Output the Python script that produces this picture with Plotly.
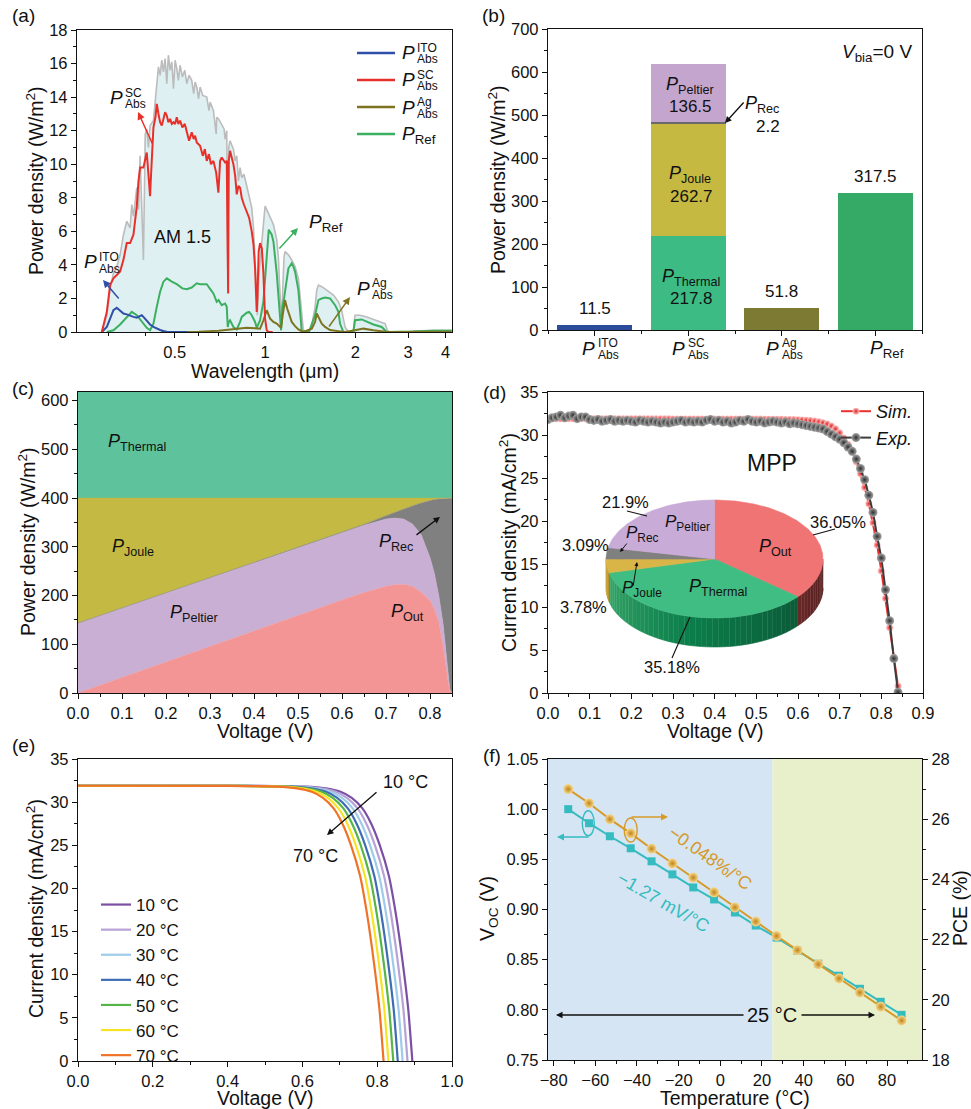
import numpy as np
import plotly.graph_objects as go

W, H = 971, 1109
FONT = "Liberation Sans, Arial, Helvetica, sans-serif"
INK = "#111111"

# ---------------- (a) spectra: wavelength (um) / power density (W/m2) ----------------
am_wl = [0.2855,0.2967,0.3043,0.3122,0.3203,0.3286,0.3371,0.3458,0.3548,0.3594,
         0.364,0.3735,0.3783,0.3831,0.393,0.3985,0.4032,0.4084,0.4136,0.4244,
         0.431,0.4354,0.441,0.4467,0.4525,0.4583,0.4642,0.4702,0.476,0.4824,
         0.4886,0.4949,0.5012,0.5077,0.514,0.5208,0.53,0.54,0.5482,0.558,
         0.5695,0.578,0.5843,0.5918,0.6,0.6072,0.62,0.639,0.65,0.656,
         0.6725,0.687,0.6899,0.7,0.717,0.73,0.7356,0.7451,0.7508,0.7566,
         0.7643,0.7842,0.795,0.8045,0.815,0.8254,0.836,0.85,0.8688,0.885,
         0.9027,0.915,0.9261,0.938,0.9428,0.952,0.9623,0.975,0.9873,1.0,
         1.0129,1.0391,1.0661,1.0937,1.108,1.1163,1.1307,1.1365,1.145,1.157,
         1.166,1.196,1.227,1.2589,1.2915,1.3082,1.325,1.342,1.4,1.431,
         1.468,1.487,1.506,1.545,1.605,1.69,1.756,1.8,1.824,1.848,
         1.896,1.97,1.995,2.073,2.183,2.297,2.417,2.512,2.557,2.6,
         2.966,3.122,3.64,4.19]
am_p = [0,1.0,2.6,3.5,3.9,4.6,5.8,6.6,6.2,7.6,
        6.9,8.6,7.3,10.5,4.3,11.8,12.1,11.0,12.3,12.6,
        13.9,15.0,15.8,15.3,16.2,15.5,16.3,14.8,16.5,15.6,
        16.1,14.5,16.2,15.7,15.0,15.9,15.2,15.6,14.8,15.3,
        15.0,14.2,14.9,14.6,13.9,14.6,14.1,14.0,13.2,13.7,
        13.2,11.8,12.8,12.7,12.4,12.1,11.5,12.0,4.0,11.0,
        11.4,10.9,10.2,10.5,9.0,9.8,9.2,9.4,8.7,8.0,
        7.4,6.2,4.5,2.0,1.0,3.2,4.2,5.5,6.6,7.5,
        7.3,6.9,6.4,5.5,4.4,3.0,1.0,0.5,2.5,4.5,
        4.8,4.6,4.3,3.9,3.2,2.0,0.8,0.1,0.0,0.4,
        1.5,2.5,2.8,2.7,2.5,2.2,1.8,1.3,0.8,0.3,
        0.0,0.1,1.0,1.0,0.9,0.75,0.6,0.5,0.1,0.0,
        0.0,0.05,0.1,0.1]

sc_wl = [0.2855,0.2967,0.3043,0.3122,0.3203,0.3286,0.3371,0.3458,0.3548,0.364,
         0.3735,0.3783,0.3831,0.393,0.4032,0.4084,0.4136,0.4157,0.4244,0.431,
         0.4354,0.441,0.4467,0.4525,0.4583,0.4642,0.4702,0.476,0.4824,0.4886,
         0.4949,0.5012,0.5077,0.514,0.5208,0.53,0.54,0.5482,0.558,0.5695,
         0.578,0.5843,0.5918,0.6072,0.62,0.63,0.639,0.65,0.66,0.6725,
         0.687,0.6988,0.708,0.717,0.7356,0.7451,0.749,0.753,0.7566,0.7643,
         0.7842,0.795,0.8045,0.815,0.8254,0.836,0.85,0.8688,0.885,0.9027,
         0.915,0.9261,0.938,0.9428,0.952,0.9623,0.975,0.9873,1.0,1.0129,
         1.0259,1.06]
sc_p = [0,1.2,2.8,3.2,3.4,3.6,4.3,5.3,5.3,5.8,
        7.5,9.0,9.8,9.8,10.7,9.5,8.1,9.0,12.2,12.8,
        13.6,13.0,12.5,12.3,12.8,13.1,12.9,12.5,12.7,12.4,
        12.5,12.4,12.8,12.4,12.6,12.2,12.4,12.0,11.4,11.9,
        11.5,11.7,11.3,11.1,10.5,10.9,10.2,10.6,10.0,10.2,
        9.5,8.3,10.2,10.4,10.1,10.2,2.3,2.3,10.2,10.8,
        10.0,9.3,8.2,8.7,8.6,8.0,7.6,7.2,6.8,6.0,
        5.2,3.8,1.2,2.0,4.8,5.3,5.0,3.5,0.8,0.1,
        0.0,0.0]

ito_wl = [0.2855,0.2967,0.3043,0.3122,0.3203,0.3286,0.3371,0.3458,0.3548,0.364,
          0.3735,0.3831,0.388,0.393,0.4032,0.4136,0.4244,0.4354,0.4467,0.4583,
          0.4702,0.5,0.55]
ito_p = [0,0.3,0.8,1.3,1.45,1.25,1.1,1.05,0.95,0.9,
         0.85,0.95,1.0,0.9,0.65,0.45,0.3,0.2,0.12,0.06,
         0.02,0.0,0.0]

ref_wl = [0.2967,0.3122,0.3286,0.3458,0.3594,0.3735,0.388,0.4032,0.4136,0.4244,
          0.4354,0.4467,0.4583,0.4702,0.4886,0.5077,0.53,0.5482,0.5695,0.5918,
          0.6072,0.639,0.66,0.6725,0.6899,0.7,0.717,0.7356,0.7451,0.7508,
          0.7566,0.7643,0.7842,0.8045,0.8254,0.836,0.8688,0.885,0.9027,0.9261,
          0.938,0.9623,0.9873,1.0129,1.0285,1.0525,1.0661,1.0937,1.1163,1.1307,
          1.142,1.157,1.196,1.227,1.243,1.2589,1.2915,1.3082,1.325,1.4,
          1.431,1.468,1.506,1.545,1.585,1.647,1.712,1.756,1.778,1.824,
          1.97,1.995,2.1,2.183,2.297,2.448,2.544,3.122,3.64,4.19]
ref_p = [0,0.1,0.45,0.9,1.2,1.0,0.6,0.25,0.1,0.5,
         1.5,2.4,3.0,3.2,3.0,2.85,2.6,2.55,2.65,2.9,
         2.85,2.85,2.5,2.3,1.8,1.9,1.6,1.7,1.5,0.3,
         0.6,0.7,0.3,0.15,0.6,0.9,1.15,1.2,1.0,0.6,
         0.25,0.7,1.8,4.5,6.1,5.8,5.4,3.5,1.2,0.1,
         1.5,2.0,3.8,4.1,3.9,3.6,2.5,1.0,0.05,0.0,
         0.5,1.0,1.9,2.0,2.05,2.0,1.6,1.2,0.5,0.0,
         0.0,0.7,0.75,0.6,0.45,0.3,0.0,0.03,0.08,0.08]

ag_wl = [0.45,0.6,0.7,0.8045,0.8688,0.9261,0.9623,0.9873,1.0129,1.0391,
         1.0661,1.0937,1.1163,1.1307,1.145,1.165,1.185,1.205,1.227,1.2589,
         1.2915,1.342,1.431,1.468,1.487,1.506,1.545,1.585,1.647,1.756,
         1.848,1.995,2.127,2.297,2.557,4.19]
ag_p = [0,0.02,0.08,0.18,0.25,0.22,0.2,0.7,1.3,0.8,
        0.6,0.5,0.35,0.25,1.0,1.9,1.4,1.0,0.6,0.35,
        0.15,0.0,0.2,0.6,1.1,0.9,0.5,0.3,0.12,0.05,
        0.0,0.1,0.2,0.1,0.0,0.02]

a_ticks = [0.5, 1, 2, 3, 4]

# ---------------- (b) power budget at V_bia = 0 V (W/m2) ----------------
b_pos = [0, 1, 2, 3]
b_ito = 11.5
b_thermal = 217.8
b_joule = 262.7
b_rec = 2.2
b_peltier = 136.5
b_ag = 51.8
b_ref = 317.5

# ---------------- (c) power components vs voltage (W/m2) ----------------
c_v = [0, 0.1, 0.2, 0.3, 0.4, 0.5, 0.6, 0.65, 0.7, 0.72, 0.74, 0.76, 0.78, 0.80, 0.81, 0.82, 0.83, 0.84, 0.845, 0.85]
c_out = [0, 32, 64, 96, 128, 160, 191, 206, 219, 222, 223, 219, 207, 190, 172, 145, 95, 30, 5, 0]
c_peltier = [143, 142, 141, 140, 139, 138, 138, 138, 138, 137, 134, 128, 118, 88, 73, 55, 45, 25, 3, 0]
c_rec = [0.5, 0.5, 0.5, 0.5, 0.5, 0.5, 0.5, 2, 7, 12, 21, 37, 65, 117, 152, 198, 259, 344.7, 392, 400]
c_joule = [256.5, 225.5, 194.5, 163.5, 132.5, 101.5, 70.5, 54, 36, 29, 22, 16, 10, 5, 3, 2, 1, 0.3, 0, 0]
c_thermal = [217.7, 217.7, 217.7, 217.7, 217.7, 217.7, 217.7, 217.7, 217.7, 217.7,
             217.7, 217.7, 217.7, 217.7, 217.7, 217.7, 217.7, 217.7, 217.7, 217.7]

# ---------------- (d) J-V: simulation vs experiment (mA/cm2) ----------------
d_v = [0.00,0.01,0.02,0.03,0.04,0.05,0.06,0.07,0.08,0.09,
       0.10,0.11,0.12,0.13,0.14,0.15,0.16,0.17,0.18,0.19,
       0.20,0.21,0.22,0.23,0.24,0.25,0.26,0.27,0.28,0.29,
       0.30,0.31,0.32,0.33,0.34,0.35,0.36,0.37,0.38,0.39,
       0.40,0.41,0.42,0.43,0.44,0.45,0.46,0.47,0.48,0.49,
       0.50,0.51,0.52,0.53,0.54,0.55,0.56,0.57,0.58,0.59,
       0.60,0.61,0.62,0.63,0.64,0.65,0.66,0.67,0.68,0.69,
       0.70,0.71,0.72,0.73,0.74,0.75,0.76,0.77,0.78,0.79,
       0.80,0.81,0.82,0.83,0.84]
d_sim = [31.9,31.9,31.9,31.9,31.9,31.9,31.9,31.9,31.9,31.9,
         31.9,31.9,31.9,31.9,31.9,31.9,31.9,31.9,31.9,31.9,
         31.9,31.9,31.9,31.9,31.9,31.88,31.88,31.88,31.88,31.88,
         31.87,31.87,31.87,31.87,31.87,31.87,31.87,31.87,31.87,31.87,
         31.86,31.86,31.86,31.86,31.86,31.86,31.86,31.86,31.86,31.86,
         31.85,31.85,31.84,31.84,31.83,31.83,31.82,31.81,31.80,31.79,
         31.77,31.75,31.72,31.68,31.62,31.54,31.43,31.28,31.05,30.72,
         30.25,29.65,28.9,28.0,26.9,25.5,23.9,22.0,19.8,17.2,
         14.2,11.0,7.6,4.2,0.8]
d_exp = [31.8,32.0,32.1,32.3,32.0,32.2,32.3,31.9,32.1,32.1,
         31.8,31.7,31.8,31.6,31.7,31.8,31.6,31.7,31.6,31.7,
         31.6,31.5,31.7,31.6,31.5,31.6,31.5,31.4,31.5,31.4,
         31.5,31.6,31.7,31.5,31.6,31.5,31.6,31.5,31.7,31.8,
         31.6,31.7,31.5,31.6,31.4,31.5,31.7,31.6,31.8,31.6,
         31.5,31.6,31.4,31.5,31.6,31.5,31.4,31.5,31.3,31.4,
         31.3,31.2,31.1,31.0,30.9,30.8,30.7,30.4,30.1,29.8,
         29.5,29.1,28.6,28.1,27.2,26.1,24.8,23.0,21.0,18.2,
         15.7,12.0,8.4,4.0,0.1]

pie_names = ["Out", "Thermal", "Joule", "Rec", "Peltier"]
pie_pct = [36.05, 35.18, 3.78, 3.09, 21.9]

# ---------------- (e) J-V vs temperature ----------------
e_labels = ["10 °C", "20 °C", "30 °C", "40 °C", "50 °C", "60 °C", "70 °C"]
e_j = [31.9, 31.88, 31.8, 31.6, 31.2, 30.5, 29.3, 27.5, 25.0, 21.5, 17.0, 11.5, 6.0, 0.0]
e_v10 = [0.0, 0.477, 0.607, 0.662, 0.702, 0.732, 0.760, 0.784, 0.807, 0.831, 0.850, 0.868, 0.883, 0.894]
e_v20 = [0.0, 0.464, 0.594, 0.649, 0.689, 0.719, 0.747, 0.771, 0.794, 0.818, 0.837, 0.855, 0.870, 0.881]
e_v30 = [0.0, 0.451, 0.581, 0.636, 0.676, 0.706, 0.734, 0.758, 0.781, 0.805, 0.824, 0.842, 0.857, 0.868]
e_v40 = [0.0, 0.438, 0.568, 0.623, 0.663, 0.693, 0.721, 0.745, 0.768, 0.792, 0.811, 0.829, 0.844, 0.855]
e_v50 = [0.0, 0.426, 0.556, 0.611, 0.651, 0.681, 0.709, 0.733, 0.756, 0.780, 0.799, 0.817, 0.832, 0.843]
e_v60 = [0.0, 0.413, 0.543, 0.598, 0.638, 0.668, 0.696, 0.720, 0.743, 0.767, 0.786, 0.804, 0.819, 0.830]
e_v70 = [0.0, 0.400, 0.530, 0.585, 0.625, 0.655, 0.683, 0.707, 0.730, 0.754, 0.773, 0.791, 0.806, 0.817]
e_colors = ["#7b4fa3", "#b7a2d6", "#9fcbea", "#3f6db3", "#57b548", "#f4e425", "#f07228"]

# ---------------- (f) Voc and PCE vs temperature ----------------
f_t = [-73, -63, -53, -43, -33, -23, -13, -3, 7, 17, 27, 37, 47, 57, 67, 77, 87]
f_voc = [1.000, 0.986, 0.973, 0.961, 0.948, 0.935, 0.922, 0.910, 0.897, 0.884,
         0.872, 0.859, 0.846, 0.834, 0.821, 0.808, 0.795]
f_pce = [27.0, 26.53, 26.0, 25.53, 25.02, 24.53, 24.06, 23.57, 23.07, 22.6,
         22.12, 21.65, 21.18, 20.71, 20.24, 19.77, 19.31]

# ====================================================================
def X(px): return px / W
def Y(py): return 1 - py / H
def dxr(a, b): return [a / W, b / W]
def dyr(top, bot): return [1 - bot / H, 1 - top / H]

ann, shp = [], []

def text(px, py, s, size=16, color=INK, xanchor="center", yanchor="middle", angle=0):
    ann.append(dict(x=X(px), y=Y(py), xref="paper", yref="paper", text=s, showarrow=False,
                    font=dict(size=size, color=color, family=FONT), xanchor=xanchor,
                    yanchor=yanchor, textangle=angle))

def arrow(hx, hy, tx, ty, color=INK, width=1.3, head=2, size=1.0):
    ann.append(dict(x=X(hx), y=Y(hy), xref="paper", yref="paper", ax=tx - hx, ay=ty - hy,
                    axref="pixel", ayref="pixel", text="", showarrow=True, arrowhead=head,
                    arrowsize=size, arrowwidth=width, arrowcolor=color, standoff=0, startstandoff=0,
                    font=dict(size=10)))

def line(x0, y0, x1, y1, color=INK, width=1.2):
    shp.append(dict(type="line", xref="paper", yref="paper", x0=X(x0), y0=Y(y0), x1=X(x1), y1=Y(y1),
                    line=dict(color=color, width=width)))

def pstack(px, py, sup, sub, size=19, ssize=12, gap=15, color=INK):
    text(px, py, "<i>P</i>", size=size, color=color, xanchor="left")
    text(px + gap, py - 5, sup, size=ssize, color=color, xanchor="left")
    text(px + gap, py + 6.5, sub, size=ssize, color=color, xanchor="left")

def minor(**kw):
    d = dict(ticks="outside", ticklen=3, tickwidth=1, tickcolor=INK)
    d.update(kw)
    return d

def axs(**kw):
    d = dict(showline=True, linecolor=INK, linewidth=1.3, mirror=True, ticks="outside",
             ticklen=5, tickwidth=1.2, tickcolor=INK, showgrid=False, zeroline=False,
             tickfont=dict(size=16.5, color=INK, family=FONT))
    d.update(kw)
    return d

fig = go.Figure()
noleg = dict(showlegend=False, hoverinfo="skip")

# ---------------- (a) ----------------
C_ITO, C_SC, C_AG, C_REF = "#2f4fa8", "#e8302a", "#7d7420", "#3bb060"
fig.add_trace(go.Scatter(x=am_wl, y=am_p, mode="lines", line=dict(color="#bcbcbc", width=1.6),
                         fill="tozeroy", fillcolor="#dff0f3", xaxis="x", yaxis="y", **noleg))
fig.add_trace(go.Scatter(x=ref_wl, y=ref_p, mode="lines", line=dict(color=C_REF, width=2), xaxis="x", yaxis="y", **noleg))
fig.add_trace(go.Scatter(x=ag_wl, y=ag_p, mode="lines", line=dict(color=C_AG, width=2), xaxis="x", yaxis="y", **noleg))
fig.add_trace(go.Scatter(x=ito_wl, y=ito_p, mode="lines", line=dict(color=C_ITO, width=2), xaxis="x", yaxis="y", **noleg))
fig.add_trace(go.Scatter(x=sc_wl, y=sc_p, mode="lines", line=dict(color=C_SC, width=2), xaxis="x", yaxis="y", **noleg))

for row, sup, col in [(53, "ITO", C_ITO), (80, "SC", C_SC), (107, "Ag", C_AG)]:
    line(357, row, 395, row, col, 2.5)
    pstack(400, row, sup, "Abs")
line(357, 134, 395, 134, C_REF, 2.5)
text(400, 135, "<i>P</i><sub>Ref</sub>", size=19, xanchor="left")

pstack(108, 98, "SC", "Abs")
arrow(138, 112, 153, 145, C_SC, 1.5)
pstack(82, 262, "ITO", "Abs")
arrow(103, 280, 120, 300, C_ITO, 1.5)
text(307, 223, "<i>P</i><sub>Ref</sub>", size=19, xanchor="left")
arrow(298, 228, 278, 250, C_REF, 1.5)
pstack(355, 288, "Ag", "Abs")
arrow(350, 297, 328, 328, C_AG, 1.5)
text(182, 237, "AM 1.5", size=18)

# ---------------- (b) ----------------
def bar(xp, val, color):
    fig.add_trace(go.Bar(x=[xp], y=[val], width=0.8, marker=dict(color=color, line=dict(width=0)),
                         xaxis="x2", yaxis="y2", **noleg))

bar(b_pos[0], b_ito, "#2b4c9b")
bar(b_pos[1], b_thermal, "#3dbb85")
bar(b_pos[1], b_joule, "#c5b942")
bar(b_pos[1], b_rec, "#6a6a6a")
bar(b_pos[1], b_peltier, "#c4a5cd")
bar(b_pos[2], b_ag, "#7d7b33")
bar(b_pos[3], b_ref, "#35aa66")

for xp, val in [(b_pos[0], b_ito), (b_pos[2], b_ag), (b_pos[3], b_ref)]:
    ann.append(dict(x=xp, y=val, xref="x2", yref="y2", text=f"{val}", showarrow=False,
                    yanchor="bottom", yshift=5, font=dict(size=17, color=INK, family=FONT)))
text(691, 278, "<i>P</i><sub>Thermal</sub>", size=18)
text(691, 299, f"{b_thermal}", size=17)
text(690, 175, "<i>P</i><sub>Joule</sub>", size=18)
text(691, 196, f"{b_joule}", size=17)
text(690, 85, "<i>P</i><sub>Peltier</sub>", size=18)
text(690, 106, f"{b_peltier}", size=17)
text(762, 104, "<i>P</i><sub>Rec</sub>", size=18)
text(768, 127, f"{b_rec}", size=17)
arrow(725, 123, 745, 101, INK, 1.3)
text(877, 53, "<i>V</i><sub>bia</sub>=0 V", size=19)

pstack(580, 348, "ITO", "Abs", gap=16)
pstack(670, 348, "SC", "Abs", gap=16)
pstack(764, 348, "Ag", "Abs", gap=16)
text(868, 349, "<i>P</i><sub>Ref</sub>", size=19, xanchor="left")

# ---------------- (c) ----------------
for vals, col in [(c_out, "#f39595"), (c_peltier, "#c9afd4"), (c_rec, "#808080"),
                  (c_joule, "#c4b942"), (c_thermal, "#5ec29c")]:
    fig.add_trace(go.Scatter(x=c_v, y=vals, mode="lines", stackgroup="c", fillcolor=col,
                             line=dict(width=0.5, color=col), xaxis="x3", yaxis="y3", **noleg))
text(106, 442, "<i>P</i><sub>Thermal</sub>", size=18, xanchor="left")
text(110, 547, "<i>P</i><sub>Joule</sub>", size=18, xanchor="left")
text(168, 613, "<i>P</i><sub>Peltier</sub>", size=18, xanchor="left")
text(377, 543, "<i>P</i><sub>Rec</sub>", size=18, xanchor="left")
text(389, 612, "<i>P</i><sub>Out</sub>", size=18, xanchor="left")
arrow(440, 517, 415, 536, INK, 1.3)

# ---------------- (d) ----------------
fig.add_trace(go.Scatter(x=d_v, y=d_sim, mode="lines+markers", name="<i>Sim.</i>",
                         line=dict(color="#e8302f", width=2),
                         marker=dict(symbol="circle", size=7, color="#ffc4c4",
                                     gradient=dict(type="radial", color="#e02525"), line=dict(width=0)),
                         xaxis="x4", yaxis="y4", legend="legend", hoverinfo="skip"))
fig.add_trace(go.Scatter(x=d_v, y=d_exp, mode="lines+markers", name="<i>Exp.</i>",
                         line=dict(color="#3c3c3c", width=2),
                         marker=dict(symbol="circle", size=9, color="#a8a8a8",
                                     gradient=dict(type="radial", color="#2e2e2e"), line=dict(width=0)),
                         xaxis="x4", yaxis="y4", legend="legend", hoverinfo="skip"))

# 3-D style pie drawn on an overlay axis measured in pixels
PCX, PCY, PRX, PRY, PDEP = 714.5, 559.0, 108.5, 59.0, 29.0
top_cols = {"Out": "#f07474", "Thermal": "#40bd82", "Joule": "#d9b446", "Rec": "#808080", "Peltier": "#c9abd7"}
wall_stops = {"Out": ["#6a2828", "#4e1c1c"], "Thermal": ["#36a568", "#0b7e4a", "#0b5a38"],
              "Joule": ["#c9a336", "#b8932c"], "Rec": ["#606060", "#505050"], "Peltier": ["#a58ab5", "#9077a0"]}

def h2r(h):
    return tuple(int(h[i:i + 2], 16) for i in (1, 3, 5))

def grad(stops, f):
    n = len(stops) - 1
    pos = min(max(f, 0), 1) * n
    i = min(int(pos), n - 1)
    t = pos - i
    c1, c2 = h2r(stops[i]), h2r(stops[i + 1])
    return "rgb(%d,%d,%d)" % tuple(round(a + (b - a) * t) for a, b in zip(c1, c2))

slices = []
start = 90.0
for nm, p in zip(pie_names, pie_pct):
    end = start - 3.6 * p
    slices.append((nm, start, end))
    start = end

pie_ax = dict(xaxis="x8", yaxis="y8", showlegend=False, hoverinfo="skip")
for nm, a0, a1 in slices:
    hi, lo = min(a0, 0.0), max(a1, -180.0)
    if hi <= lo:
        continue
    nseg = max(2, int((hi - lo) / 3))
    edges = np.linspace(hi, lo, nseg + 1)
    for k in range(nseg):
        t = np.radians(np.linspace(edges[k], edges[k + 1], 6))
        xs = PCX + PRX * np.cos(t)
        yt = PCY - PRY * np.sin(t)
        yb = yt + PDEP
        f = ((edges[k] + edges[k + 1]) / 2 - lo) / (hi - lo)
        col = grad(wall_stops[nm], f)
        fig.add_trace(go.Scatter(x=np.concatenate([xs, xs[::-1]]), y=np.concatenate([yt, yb[::-1]]),
                                 mode="lines", fill="toself", fillcolor=col,
                                 line=dict(width=0.6, color=col), **pie_ax))
for nm, a0, a1 in slices:
    t = np.radians(np.linspace(a0, a1, max(4, int(abs(a1 - a0)))))
    xs = np.concatenate([[PCX], PCX + PRX * np.cos(t), [PCX]])
    ys = np.concatenate([[PCY], PCY - PRY * np.sin(t), [PCY]])
    fig.add_trace(go.Scatter(x=xs, y=ys, mode="lines", fill="toself", fillcolor=top_cols[nm],
                             line=dict(width=0.6, color=top_cols[nm]), **pie_ax))

pct = dict(zip(pie_names, pie_pct))
text(772, 463, "MPP", size=23)
text(757, 547, "<i>P</i><sub>Out</sub>", size=18, xanchor="left")
text(687, 587, "<i>P</i><sub>Thermal</sub>", size=18, xanchor="left")
text(663, 523, "<i>P</i><sub>Peltier</sub>", size=17, xanchor="left")
text(624, 534, "<i>P</i><sub>Rec</sub>", size=17, xanchor="left")
text(620, 589, "<i>P</i><sub>Joule</sub>", size=17, xanchor="left")
text(625, 502, f"{pct['Peltier']}%", size=16.5)
text(838, 522, f"{pct['Out']}%", size=16.5)
text(585, 545, f"{pct['Rec']}%", size=16.5)
text(583, 607, f"{pct['Joule']}%", size=16.5)
text(672, 667, f"{pct['Thermal']}%", size=16.5)
line(627, 511, 647, 516, INK, 1.1)
line(813, 535, 835, 529, INK, 1.1)
line(690, 617, 672, 658, INK, 1.1)
arrow(620, 552, 628, 542, INK, 1.0, head=2, size=0.8)
arrow(637, 562, 633, 587, INK, 1.0, head=2, size=0.8)

# ---------------- (e) ----------------
for lab, vv, col in zip(e_labels, [e_v10, e_v20, e_v30, e_v40, e_v50, e_v60, e_v70], e_colors):
    fig.add_trace(go.Scatter(x=vv, y=e_j, mode="lines", name=lab, line=dict(color=col, width=2.2, shape="spline", smoothing=0.6),
                             xaxis="x5", yaxis="y5", legend="legend2", hoverinfo="skip"))
text(405, 782, "10 °C", size=18)
text(315, 856, "70 °C", size=18)
arrow(327, 835, 378, 791, INK, 1.3)

# ---------------- (f) ----------------
shp.append(dict(type="rect", xref="x6", yref="paper", x0=-82.7, x1=25, y0=Y(1060), y1=Y(759),
                fillcolor="#d5e5f3", line=dict(width=0), layer="below"))
shp.append(dict(type="rect", xref="x6", yref="paper", x0=25, x1=96.8, y0=Y(1060), y1=Y(759),
                fillcolor="#e8f0cb", line=dict(width=0), layer="below"))
fig.add_trace(go.Scatter(x=f_t, y=f_voc, mode="lines+markers", line=dict(color="#36bcc0", width=2),
                         marker=dict(symbol="square", size=8, color="#36bcc0"), xaxis="x6", yaxis="y6", **noleg))
fig.add_trace(go.Scatter(x=f_t, y=f_pce, mode="lines+markers", line=dict(color="#d69a2a", width=2),
                         marker=dict(symbol="circle", size=10, color="#f7d98f",
                                     gradient=dict(type="radial", color="#c08418"), line=dict(width=0)),
                         xaxis="x6", yaxis="y7", **noleg))
shp.append(dict(type="circle", xref="paper", yref="paper", x0=X(582.3), x1=X(594.3), y0=Y(835.8), y1=Y(810.8),
                line=dict(color="#36bcc0", width=1.4)))
shp.append(dict(type="circle", xref="paper", yref="paper", x0=X(624.2), x1=X(637.2), y0=Y(842), y1=Y(818),
                line=dict(color="#d69a2a", width=1.4)))
arrow(557, 837, 590, 837, "#36bcc0", 1.4)
arrow(668, 817, 630, 817, "#d69a2a", 1.4)
text(710, 858, "−0.048%/°C", size=18, color="#d69a2a", angle=35)
text(663, 902, "−1.27 mV/°C", size=18, color="#36bcc0", angle=30)
text(772, 1015, "25 °C", size=20)
arrow(556, 1015, 745, 1015, INK, 1.3)
arrow(875, 1015, 800, 1015, INK, 1.3)

# ---------------- titles and panel labels ----------------
TS = 19.5
text(35, 181, "Power density (W/m<sup>2</sup>)", size=TS, angle=-90)
text(265, 371, "Wavelength (μm)", size=TS)
text(497, 180, "Power density (W/m<sup>2</sup>)", size=TS, angle=-90)
text(27, 542, "Power density (W/m<sup>2</sup>)", size=TS, angle=-90)
text(265, 731, "Voltage (V)", size=TS)
text(508, 542, "Current density (mA/cm<sup>2</sup>)", size=TS, angle=-90)
text(715, 731, "Voltage (V)", size=TS)
text(35, 909, "Current density (mA/cm<sup>2</sup>)", size=TS, angle=-90)
text(265, 1098, "Voltage (V)", size=TS)
text(488, 908, "V<sub>OC</sub> (V)", size=TS, angle=-90)
text(960, 908, "PCE (%)", size=TS, angle=-90)
text(735, 1098, "Temperature (°C)", size=TS)
for lab, px, py in [("(a)", 23, 15), ("(b)", 493, 15), ("(c)", 23, 389), ("(d)", 494, 392), ("(e)", 23, 745), ("(f)", 492, 755)]:
    text(px, py, lab, size=19)

# ---------------- layout ----------------
fig.update_layout(
    width=W, height=H, autosize=False, margin=dict(l=0, r=0, t=0, b=0, pad=0, autoexpand=False),
    paper_bgcolor="white", plot_bgcolor="white", font=dict(family=FONT, color=INK),
    barmode="stack",
    xaxis=axs(domain=dxr(77, 452), anchor="y", type="log", range=[np.log10(0.236), np.log10(4.2)],
              tickvals=a_ticks, ticktext=[str(v) for v in a_ticks],
              minor=minor(tickvals=[0.3, 0.4, 0.6, 0.7, 0.8, 0.9])),
    yaxis=axs(domain=dyr(30, 332), anchor="x", range=[0, 18], dtick=2, minor=minor(dtick=1)),
    xaxis2=axs(domain=dxr(548, 922), anchor="y2", range=[-0.5, 3.5], tickvals=b_pos, showticklabels=False,
               minor=minor(tick0=0.5, dtick=1)),
    yaxis2=axs(domain=dyr(29, 330), anchor="x2", range=[0, 700], dtick=100, minor=minor(dtick=50)),
    xaxis3=axs(domain=dxr(78, 452), anchor="y3", range=[0, 0.85], dtick=0.1, tickformat=".1f", minor=minor(dtick=0.05)),
    yaxis3=axs(domain=dyr(392, 693), anchor="x3", range=[0, 617.7], dtick=100, minor=minor(dtick=50)),
    xaxis4=axs(domain=dxr(548, 923), anchor="y4", range=[0, 0.9], dtick=0.1, tickformat=".1f", minor=minor(dtick=0.05)),
    yaxis4=axs(domain=dyr(392, 693), anchor="x4", range=[0, 35], dtick=5, minor=minor(dtick=2.5)),
    xaxis5=axs(domain=dxr(78, 452), anchor="y5", range=[0, 1.0], dtick=0.2, tickformat=".1f", minor=minor(dtick=0.1)),
    yaxis5=axs(domain=dyr(759, 1061), anchor="x5", range=[0, 35], dtick=5, minor=minor(dtick=2.5)),
    xaxis6=axs(domain=dxr(548, 922), anchor="y6", range=[-82.7, 96.8], tick0=0, dtick=20, minor=minor(tick0=0, dtick=10)),
    yaxis6=axs(domain=dyr(759, 1060), anchor="x6", range=[0.75, 1.05], dtick=0.05, tickformat=".2f",
               minor=minor(dtick=0.025), mirror=False),
    yaxis7=axs(overlaying="y6", anchor="x6", side="right", range=[18, 28], dtick=2, minor=minor(dtick=1), mirror=False),
    xaxis8=dict(overlaying="x4", anchor="y8", range=[548, 923], visible=False),
    yaxis8=dict(overlaying="y4", anchor="x8", range=[693, 392], visible=False),
    legend=dict(x=X(836), y=Y(393), xanchor="left", yanchor="top", bgcolor="rgba(0,0,0,0)", traceorder="normal",
                font=dict(size=18, family=FONT, color=INK), tracegroupgap=0, itemwidth=30),
    legend2=dict(x=X(96), y=Y(887), xanchor="left", yanchor="top", bgcolor="rgba(0,0,0,0)", traceorder="normal",
                 font=dict(size=17, family=FONT, color=INK), tracegroupgap=0, itemwidth=30),
    annotations=ann, shapes=shp,
)

fig.write_html("out.html", config={"displayModeBar": False},
               post_script="document.body.style.margin='0px';document.body.style.padding='0px';document.body.style.overflow='hidden';")
